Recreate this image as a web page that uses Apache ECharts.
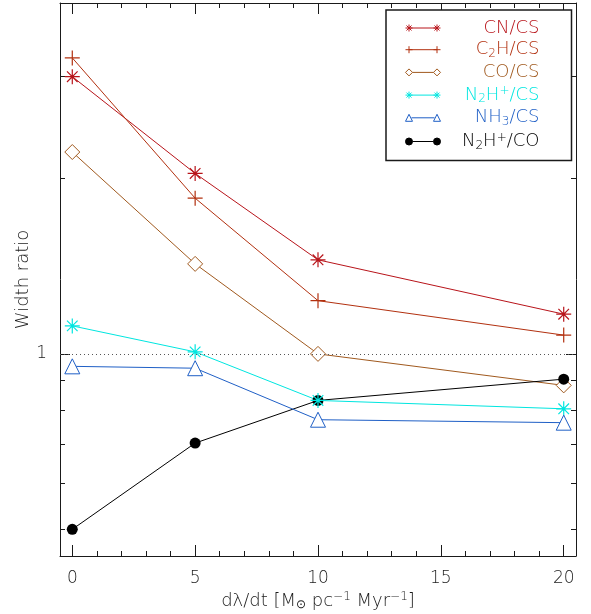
<!DOCTYPE html>
<html><head><meta charset="utf-8">
<script src="https://cdn.jsdelivr.net/npm/echarts@6/dist/echarts.min.js"></script>
<style>html,body{margin:0;padding:0;background:#fff}#c{width:591px;height:614px}</style>
</head><body><div id="c"></div>
<script>
// ---- data ----
const xValues = [0, 5, 10, 20];
const cnCS  = [2.99, 2.04, 1.45, 1.17];
const c2hCS = [3.22, 1.85, 1.234, 1.077];
const coCS  = [2.22, 1.427, 1.0, 0.883];
const n2hCS = [1.117, 1.008, 0.832, 0.805];
const nh3CS = [0.952, 0.945, 0.771, 0.762];
const n2hCO = [0.50, 0.703, 0.832, 0.905];
const seriesNames = ['CN/CS', 'C2H/CS', 'CO/CS', 'N2H+/CS', 'NH3/CS', 'N2H+/CO'];
const xMajorTicks = [0, 5, 10, 15, 20];
const xMinorTicks = [1, 2, 3, 4, 6, 7, 8, 9, 11, 12, 13, 14, 16, 17, 18, 19];
const yMajorTicks = [1];
const yMinorTicks = [0.5, 0.6, 0.7, 0.8, 0.9, 2, 3];
const refLine = 1;

// ---- styling ----
const FONT = 'DejaVu Sans';
const FW = 200;
const TXT = '#1a1a1a';
const colors = {
  'CN/CS': '#b8141a', 'C2H/CS': '#b2300f', 'CO/CS': '#a0591e',
  'N2H+/CS': '#00e6e0', 'NH3/CS': '#1f5fc6', 'N2H+/CO': '#000000'
};
const ASTER = 'path://M0,-10L0,10M-10,0L10,0M-7.07,-7.07L7.07,7.07M-7.07,7.07L7.07,-7.07';
const PLUS = 'path://M0,-10L0,10M-10,0L10,0';
const DIAM = 'path://M0,-10L10,0L0,10L-10,0Z';
const TRI = 'path://M0,-10L10,10L-10,10Z';
const legendRich = {
  'CN/CS': '{t|CN/CS}',
  'C2H/CS': '{t|C}{sub|2}{t|H/CS}',
  'CO/CS': '{t|CO/CS}',
  'N2H+/CS': '{t|N}{sub|2}{t|H}{sup|+}{t|/CS}',
  'NH3/CS': '{t|NH}{sub|3}{t|/CS}',
  'N2H+/CO': '{t|N}{sub|2}{t|H}{sup|+}{t|/CO}'
};

// legend icons: line with a small marker at each end (icon box 35 x 7)
function legAster(x) { return `M${x},0L${x},7M${x-3.5},3.5L${x+3.5},3.5M${x-2.5},1L${x+2.5},6M${x-2.5},6L${x+2.5},1`; }
function legPlus(x) { return `M${x},0L${x},7M${x-3.5},3.5L${x+3.5},3.5`; }
function legDiam(x) { return `M${x},0L${x+3.5},3.5L${x},7L${x-3.5},3.5Z`; }
function legTri(x) { return `M${x},0L${x+3.5},7L${x-3.5},7Z`; }
function legCirc(x) { return `M${x-3.5},3.5A3.5,3.5,0,1,0,${x+3.5},3.5A3.5,3.5,0,1,0,${x-3.5},3.5Z`; }
const legendIcons = {
  'CN/CS': 'path://M3.5,3.5L31.5,3.5' + legAster(3.5) + legAster(31.5),
  'C2H/CS': 'path://M3.5,3.5L31.5,3.5' + legPlus(3.5) + legPlus(31.5),
  'CO/CS': 'path://M7,3.5L28,3.5' + legDiam(3.5) + legDiam(31.5),
  'N2H+/CS': 'path://M3.5,3.5L31.5,3.5' + legAster(3.5) + legAster(31.5),
  'NH3/CS': 'path://M6,3.5L29,3.5' + legTri(3.5) + legTri(31.5),
  'N2H+/CO': 'path://M7,3.5L28,3.5' + legCirc(3.5) + legCirc(31.5)
};
const legendFill = {
  'CN/CS': 'none', 'C2H/CS': 'none', 'CO/CS': '#fff', 'N2H+/CS': 'none', 'NH3/CS': '#fff', 'N2H+/CO': '#000'
};

function pairs(ys) { return xValues.map((x, i) => [x, ys[i]]); }
function mkSeries(name, ys, symbol, size, fill, bw) {
  const c = colors[name];
  return {
    name, type: 'line', data: pairs(ys), xAxisIndex: 0, yAxisIndex: 0,
    symbol, symbolSize: size, showAllSymbol: true,
    lineStyle: { color: c, width: 1 },
    itemStyle: { color: fill, borderColor: c, borderWidth: bw },
    emphasis: { disabled: true }, animation: false
  };
}

const series = [
  mkSeries('CN/CS', cnCS, ASTER, 15, colors['CN/CS'], 1.2),
  mkSeries('C2H/CS', c2hCS, PLUS, 15, colors['C2H/CS'], 1.2),
  mkSeries('CO/CS', coCS, DIAM, 15, '#fff', 1),
  mkSeries('N2H+/CO', n2hCO, 'circle', 11, '#000', 0),
  mkSeries('N2H+/CS', n2hCS, ASTER, 15, colors['N2H+/CS'], 1.2),
  mkSeries('NH3/CS', nh3CS, TRI, 15, '#fff', 1)
];
series[0].markLine = {
  silent: true, symbol: 'none', animation: false,
  label: { show: false },
  lineStyle: { color: '#555', type: [1, 3], width: 1 },
  data: [{ yAxis: refLine }]
};

const baseX = { type: 'value', min: -0.5, max: 20.5, splitLine: { show: false } };
const baseY = { type: 'log', logBase: 10, min: 0.45, max: 4, splitLine: { show: false } };
const axLine = { show: true, onZero: false, lineStyle: { color: TXT, width: 1 } };
const noLine = { show: false, onZero: false };
const tickSt = { color: TXT, width: 1 };

const xAxis = [
  Object.assign({}, baseX, { position: 'bottom', axisLine: axLine,
    axisTick: { inside: true, length: 11, customValues: xMajorTicks, lineStyle: tickSt },
    axisLabel: { customValues: xMajorTicks, margin: 14, fontSize: 17, fontFamily: FONT, fontWeight: FW, color: TXT },
    name: '{n|dλ/dt [M}{sub|⊙}{n| pc}{sup|−1}{n| Myr}{sup|−1}{n|]}',
    nameLocation: 'middle', nameGap: 35, nameMoveOverlap: false,
    nameTextStyle: { fontSize: 18, fontFamily: FONT, fontWeight: FW, color: TXT, rich: {
      n: { fontSize: 18, fontFamily: FONT, fontWeight: FW, color: TXT, lineHeight: 20 },
      sub: { fontSize: 12, fontFamily: FONT, fontWeight: FW, color: TXT, lineHeight: 11, verticalAlign: 'bottom' },
      sup: { fontSize: 12, fontFamily: FONT, fontWeight: FW, color: TXT, lineHeight: 11, verticalAlign: 'top' }
    } } }),
  Object.assign({}, baseX, { position: 'bottom', axisLine: noLine,
    axisTick: { inside: true, length: 5, customValues: xMinorTicks, lineStyle: tickSt },
    axisLabel: { show: false } }),
  Object.assign({}, baseX, { position: 'top', axisLine: axLine,
    axisTick: { inside: true, length: 11, customValues: xMajorTicks, lineStyle: tickSt },
    axisLabel: { show: false } }),
  Object.assign({}, baseX, { position: 'top', axisLine: noLine,
    axisTick: { inside: true, length: 5, customValues: xMinorTicks, lineStyle: tickSt },
    axisLabel: { show: false } })
];
const yAxis = [
  Object.assign({}, baseY, { position: 'left', axisLine: axLine,
    axisTick: { inside: true, length: 10, customValues: yMajorTicks, lineStyle: tickSt },
    axisLabel: { customValues: yMajorTicks, margin: 13, fontSize: 17, fontFamily: FONT, fontWeight: FW, color: TXT,
      formatter: v => String(Math.round(v)) },
    name: 'Width ratio', nameLocation: 'middle', nameGap: 28, nameRotate: 90, nameMoveOverlap: false,
    nameTextStyle: { fontSize: 18, fontFamily: FONT, fontWeight: FW, color: TXT } }),
  Object.assign({}, baseY, { position: 'left', axisLine: noLine,
    axisTick: { inside: true, length: 5, customValues: yMinorTicks, lineStyle: tickSt },
    axisLabel: { show: false } }),
  Object.assign({}, baseY, { position: 'right', axisLine: axLine,
    axisTick: { inside: true, length: 10, customValues: yMajorTicks, lineStyle: tickSt },
    axisLabel: { show: false } }),
  Object.assign({}, baseY, { position: 'right', axisLine: noLine,
    axisTick: { inside: true, length: 5, customValues: yMinorTicks, lineStyle: tickSt },
    axisLabel: { show: false } })
];

const option = {
  animation: false,
  backgroundColor: '#fff',
  grid: { left: 60, top: 3, right: 15, bottom: 58, containLabel: false, outerBoundsMode: 'none' },
  xAxis, yAxis, series,
  legend: {
    orient: 'vertical', left: 386, top: 10,
    padding: [9, 32, 9, 17],
    itemWidth: 35, itemHeight: 7, itemGap: 3.7,
    borderColor: '#1a1a1a', borderWidth: 1.5, backgroundColor: '#fff',
    selectedMode: false,
    data: seriesNames.map(n => ({ name: n, icon: legendIcons[n],
      itemStyle: { color: legendFill[n], borderColor: colors[n], borderWidth: 1 },
      textStyle: { color: colors[n] } })),
    formatter: n => legendRich[n],
    textStyle: { fontSize: 18, fontFamily: FONT, fontWeight: FW, width: 94, height: 20, rich: {
      t: { fontSize: 18, fontFamily: FONT, fontWeight: FW, align: 'right', lineHeight: 20 },
      sub: { fontSize: 12, fontFamily: FONT, fontWeight: FW, align: 'right', lineHeight: 12, verticalAlign: 'bottom' },
      sup: { fontSize: 12, fontFamily: FONT, fontWeight: FW, align: 'right', lineHeight: 12, verticalAlign: 'top' }
    } }
  }
};
const chart = echarts.init(document.getElementById('c'), null, { renderer: 'canvas' });
chart.setOption(option);
</script></body></html>
